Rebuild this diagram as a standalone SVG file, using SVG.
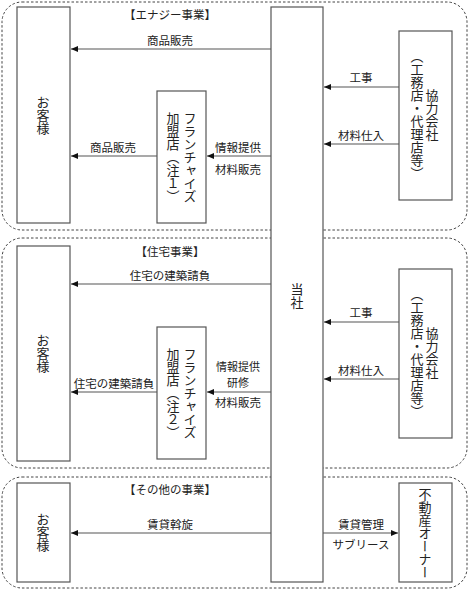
<svg xmlns="http://www.w3.org/2000/svg" width="469" height="590" viewBox="0 0 469 590">
<style>
.sec{fill:none;stroke:#444;stroke-width:1;stroke-dasharray:2.5,2}
.box{fill:#fff;stroke:#555;stroke-width:1.2}
.ln{fill:none;stroke:#555;stroke-width:1.2}
text{font-family:"Noto Sans CJK JP","Noto Sans",sans-serif;fill:#222;font-size:11.5px}
.lbl{text-anchor:middle}
.sm{font-size:11px}
.v{writing-mode:vertical-rl;text-anchor:middle;font-size:13px}
</style>
<defs>
<marker id="ah" markerWidth="8" markerHeight="8" refX="7" refY="4" orient="auto" markerUnits="userSpaceOnUse">
<path d="M0,1 L7,4 L0,7 Z" fill="#111"/>
</marker>
</defs>
<g id="sections">
<rect class="sec" x="2" y="2" width="465" height="228" rx="20"/>
<rect class="sec" x="2" y="238" width="465" height="230" rx="20"/>
<rect class="sec" x="2" y="477" width="465" height="111" rx="20"/>
<text class="lbl" x="170" y="19">【エナジー事業】</text>
<text class="lbl" x="170" y="256">【住宅事業】</text>
<text class="lbl" x="170" y="494">【その他の事業】</text>
</g>
<g id="connectors">
<line class="ln" x1="271" y1="49" x2="71" y2="49" marker-end="url(#ah)"/>
<line class="ln" x1="157" y1="156" x2="71" y2="156" marker-end="url(#ah)"/>
<line class="ln" x1="271" y1="156" x2="207" y2="156" marker-end="url(#ah)"/>
<line class="ln" x1="399" y1="87" x2="324" y2="87" marker-end="url(#ah)"/>
<line class="ln" x1="399" y1="144" x2="324" y2="144" marker-end="url(#ah)"/>
<line class="ln" x1="271" y1="284" x2="71" y2="284" marker-end="url(#ah)"/>
<line class="ln" x1="157" y1="392" x2="71" y2="392" marker-end="url(#ah)"/>
<line class="ln" x1="271" y1="392" x2="207" y2="392" marker-end="url(#ah)"/>
<line class="ln" x1="399" y1="322" x2="324" y2="322" marker-end="url(#ah)"/>
<line class="ln" x1="399" y1="379" x2="324" y2="379" marker-end="url(#ah)"/>
<line class="ln" x1="271" y1="533" x2="71" y2="533" marker-end="url(#ah)"/>
<line class="ln" x1="323" y1="533" x2="398" y2="533" marker-end="url(#ah)"/>
<text class="lbl" x="170" y="45">商品販売</text>
<text class="lbl" x="113" y="152">商品販売</text>
<text class="lbl" x="238" y="152">情報提供</text>
<text class="lbl" x="238" y="174">材料販売</text>
<text class="lbl" x="361" y="82">工事</text>
<text class="lbl" x="361" y="140">材料仕入</text>
<text class="lbl" x="170" y="280">住宅の建築請負</text>
<text class="lbl" x="114" y="388">住宅の建築請負</text>
<text class="lbl sm" x="238" y="371">情報提供</text>
<text class="lbl sm" x="238" y="387">研修</text>
<text class="lbl" x="238" y="407">材料販売</text>
<text class="lbl" x="361" y="317">工事</text>
<text class="lbl" x="361" y="375">材料仕入</text>
<text class="lbl" x="170" y="529">賃貸斡旋</text>
<text class="lbl" x="361" y="529">賃貸管理</text>
<text class="lbl" x="361" y="549">サブリース</text>
</g>
<g id="company">
<rect class="box" x="271" y="7" width="52" height="575"/>
<text class="v" x="297" y="296">当社</text>
</g>
<g id="customer1">
<rect class="box" x="17" y="7" width="53" height="216"/>
<text class="v" x="43" y="115">お客様</text>
</g>
<g id="franchise1">
<rect class="box" x="157" y="91" width="49" height="132"/>
<text class="v" x="190" y="157">フランチャイズ</text>
<text class="v" x="173" y="157">加盟店（注１）</text>
</g>
<g id="partner1">
<rect class="box" x="399" y="31" width="53" height="169"/>
<text class="v" x="432" y="115">協力会社</text>
<text class="v" x="417" y="115">（工務店・代理店等）</text>
</g>
<g id="customer2">
<rect class="box" x="17" y="246" width="53" height="215"/>
<text class="v" x="43" y="353">お客様</text>
</g>
<g id="franchise2">
<rect class="box" x="157" y="327" width="49" height="132"/>
<text class="v" x="190" y="393">フランチャイズ</text>
<text class="v" x="173" y="393">加盟店（注２）</text>
</g>
<g id="partner2">
<rect class="box" x="399" y="269" width="53" height="169"/>
<text class="v" x="432" y="353">協力会社</text>
<text class="v" x="417" y="353">（工務店・代理店等）</text>
</g>
<g id="customer3">
<rect class="box" x="17" y="483" width="53" height="99"/>
<text class="v" x="43" y="532">お客様</text>
</g>
<g id="owner">
<rect class="box" x="399" y="483" width="53" height="99"/>
<text class="v" x="425" y="533">不動産オーナー</text>
</g>
</svg>
